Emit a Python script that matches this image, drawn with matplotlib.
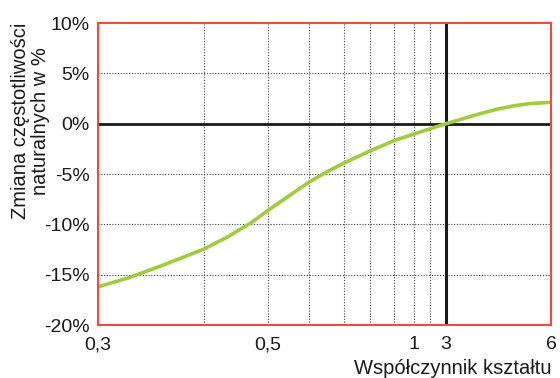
import numpy as np
import matplotlib.pyplot as plt

plt.rcParams['font.family'] = ['Liberation Sans', 'DejaVu Sans']

# Shape factor (x) and change of natural frequency in % (y)
shape_factor = [0.3, 0.329, 0.36, 0.4, 0.438, 0.4745, 0.5, 0.5537, 0.6, 0.65, 0.7,
                0.75, 0.8, 0.9, 1.0, 2.0, 3.0, 3.49, 3.97, 4.45, 4.92, 5.4, 6.0]
freq_change = [-16.2, -15.3, -14.1, -12.45, -11.2, -9.8, -8.6, -7.1, -5.8, -4.8, -3.9,
               -3.3, -2.7, -1.68, -1.02, -0.5, 0.0, 0.5, 1.0, 1.43, 1.77, 2.0, 2.13]

# Axis layout of the original drawing (non-uniform scale)
scale_values = [0.3, 0.4, 0.5, 0.6, 0.7, 0.8, 0.9, 1.0, 2.0, 3.0, 6.0]
scale_pos = [0, 106, 170, 211, 246, 272, 296, 316, 332, 348, 453]

xticks = [0.3, 0.5, 1.0, 3.0, 6.0]
xtick_labels = ['0,3', '0,5', '1', '3', '6']
xgrid = [0.4, 0.5, 0.6, 0.7, 0.8, 0.9, 1.0, 2.0]
yticks = [-20, -15, -10, -5, 0, 5, 10]


def forward(x):
    return np.interp(x, scale_values, scale_pos)


def inverse(p):
    return np.interp(p, scale_pos, scale_values)


fig = plt.figure(figsize=(5.6, 3.78), dpi=100)
ax = fig.add_axes([0.175, 0.140, 0.809, 0.799])
ax.set_xscale('function', functions=(forward, inverse))
ax.set_xlim(0.3, 6.0)
ax.set_ylim(-20, 10)

# grid
dot = (0, (1, 1.5))
for g in xgrid:
    ax.axvline(g, color='#444444', lw=0.8, ls=dot, zorder=1)
for g in yticks[1:-1]:
    if g != 0:
        ax.axhline(g, color='#444444', lw=0.8, ls=dot, zorder=1)
ax.axhline(0, color='#1a1a1a', lw=2.0, zorder=2)
ax.axvline(3.0, color='#1a1a1a', lw=2.2, zorder=2)

ax.plot(shape_factor, freq_change, color='#9fcb3d', lw=2.6,
        solid_capstyle='butt', solid_joinstyle='round', zorder=3)

ax.set_xticks(xticks)
ax.set_xticklabels(xtick_labels)
ax.xaxis.set_minor_locator(plt.NullLocator())
ax.set_yticks(yticks)
ax.set_yticklabels([f'{v}%' for v in yticks])
ax.tick_params(axis='both', length=0, labelsize=14, colors='#1a1a1a')
ax.tick_params(axis='y', pad=6)
ax.tick_params(axis='x', pad=8)

for s in ax.spines.values():
    s.set_color('#f04a3a')
    s.set_linewidth(1.5)
    s.set_zorder(4)

fig.text(0.054, 0.68, 'Zmiana częstotliwości\nnaturalnych w %', rotation=90,
         ha='center', va='center', fontsize=14.5, color='#1a1a1a', linespacing=1.05)
fig.text(0.984, 0.024, 'Współczynnik kształtu', ha='right', va='center',
         fontsize=14.5, color='#1a1a1a')

fig.savefig('out.png', dpi=100)
